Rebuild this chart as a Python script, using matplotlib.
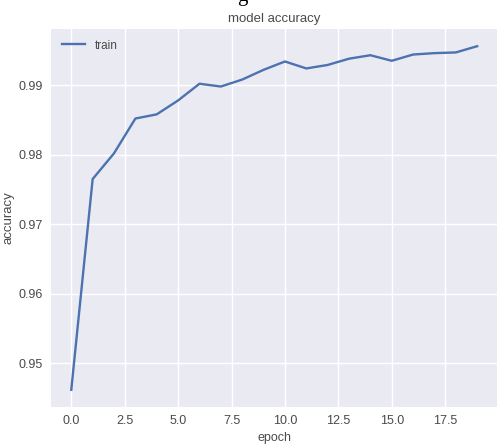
import matplotlib
matplotlib.use("Agg")
import matplotlib.pyplot as plt

epochs = list(range(20))
train_acc = [0.9462, 0.9765, 0.9802, 0.9852, 0.9858, 0.9878, 0.9902, 0.9898,
             0.9908, 0.9922, 0.9934, 0.9924, 0.9929, 0.9938, 0.9943, 0.9935,
             0.9944, 0.9946, 0.9947, 0.9956]
x_ticks = [0.0, 2.5, 5.0, 7.5, 10.0, 12.5, 15.0, 17.5]
y_ticks = [0.95, 0.96, 0.97, 0.98, 0.99]

plt.rcParams['font.family'] = ['Liberation Sans', 'DejaVu Sans']
text_col = '#4a4a4a'

fig = plt.figure(figsize=(4.97, 4.44), dpi=100)
ax = fig.add_axes([0.1026, 0.0833, 0.8984, 0.8514])
ax.set_facecolor('#EAEAF2')
for s in ax.spines.values():
    s.set_visible(False)
ax.grid(True, color='white', linewidth=1.0)
ax.set_axisbelow(True)

ax.plot(epochs, train_acc, color='#4C72B0', linewidth=1.7, label='train')

ax.set_xticks(x_ticks)
ax.set_yticks(y_ticks)
ax.set_xticklabels([f"{t:.1f}" for t in x_ticks])
ax.set_yticklabels([f"{t:.2f}" for t in y_ticks])
ax.tick_params(length=0, labelsize=9, colors=text_col, pad=6)

ax.set_title('model accuracy', fontsize=9.5, color=text_col, pad=5)
ax.set_xlabel('epoch', fontsize=9, color=text_col, labelpad=3)
ax.set_ylabel('accuracy', fontsize=9.5, color=text_col, labelpad=3)

leg = ax.legend(loc='upper left', frameon=False, fontsize=8.5)
for t in leg.get_texts():
    t.set_color(text_col)

# cropped fragment of text above the chart
fig.text(0.478, 1.0 - 0.8 / 444, 'g', family='Liberation Serif', fontsize=15,
         color='black', ha='left', va='baseline')

fig.savefig('out.png', dpi=100)
